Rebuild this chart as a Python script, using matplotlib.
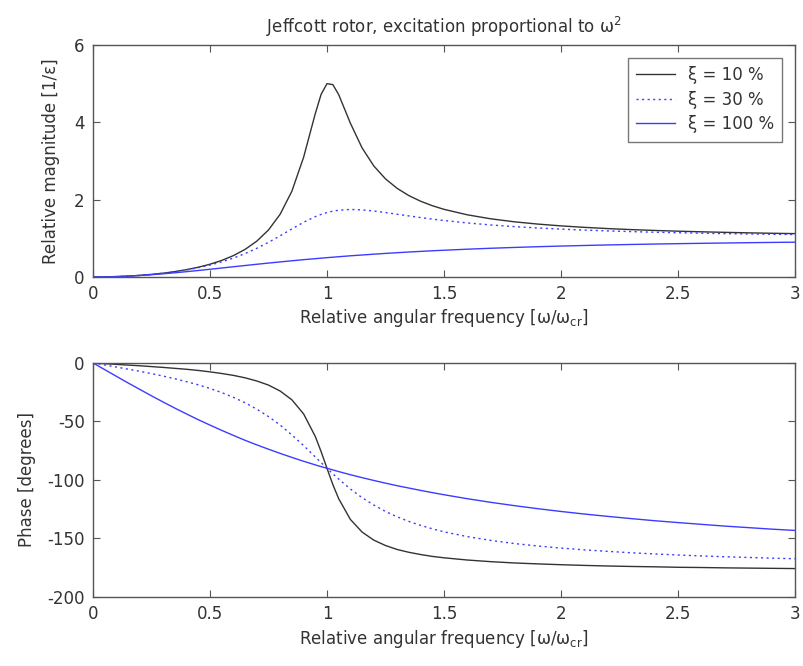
import numpy as np
import matplotlib.pyplot as plt

plt.rcParams['font.family'] = ['DejaVu Sans']
plt.rcParams['mathtext.fontset'] = 'dejavusans'
plt.rcParams['axes.unicode_minus'] = False

# relative angular frequency
freq = [0, 0.05, 0.1, 0.15, 0.2, 0.25, 0.3, 0.35, 0.4, 0.45, 0.5, 0.55, 0.6,
        0.65, 0.7, 0.75, 0.8, 0.85, 0.9, 0.95, 0.975, 1.0, 1.025, 1.05, 1.1,
        1.15, 1.2, 1.25, 1.3, 1.35, 1.4, 1.45, 1.5, 1.6, 1.7, 1.8, 1.9, 2.0,
        2.1, 2.2, 2.3, 2.4, 2.5, 2.6, 2.7, 2.8, 2.9, 3.0]

# magnitude
mag_10 = [0, 0.003, 0.010, 0.023, 0.042, 0.067, 0.099, 0.139, 0.190, 0.252,
          0.330, 0.428, 0.553, 0.714, 0.927, 1.216, 1.625, 2.220, 3.095,
          4.226, 4.726, 5.000, 4.976, 4.718, 3.978, 3.339, 2.873, 2.538,
          2.292, 2.105, 1.960, 1.844, 1.750, 1.608, 1.505, 1.428, 1.369,
          1.322, 1.284, 1.252, 1.226, 1.204, 1.185, 1.169, 1.155, 1.142,
          1.131, 1.122]
mag_30 = [0, 0.003, 0.010, 0.023, 0.041, 0.066, 0.097, 0.136, 0.183, 0.241,
          0.309, 0.392, 0.490, 0.606, 0.742, 0.896, 1.067, 1.244, 1.415,
          1.561, 1.619, 1.667, 1.703, 1.727, 1.747, 1.736, 1.707, 1.667,
          1.623, 1.579, 1.537, 1.497, 1.461, 1.398, 1.346, 1.303, 1.268,
          1.238, 1.213, 1.192, 1.174, 1.158, 1.145, 1.133, 1.122, 1.113,
          1.105, 1.098]
mag_100 = [0, 0.002, 0.010, 0.022, 0.038, 0.059, 0.083, 0.109, 0.138, 0.168,
           0.200, 0.232, 0.265, 0.297, 0.329, 0.360, 0.390, 0.419, 0.448,
           0.474, 0.487, 0.500, 0.512, 0.524, 0.548, 0.569, 0.590, 0.610,
           0.628, 0.646, 0.662, 0.678, 0.692, 0.719, 0.743, 0.764, 0.783,
           0.800, 0.815, 0.829, 0.841, 0.852, 0.862, 0.871, 0.879, 0.887,
           0.894, 0.900]

# phase in degrees
ph_10 = [0, -0.6, -1.2, -1.8, -2.4, -3.1, -3.8, -4.6, -5.4, -6.4, -7.6, -9.0,
         -10.6, -12.7, -15.4, -18.9, -24.0, -31.5, -43.5, -62.8, -75.8, -90.0,
         -103.9, -116.0, -133.7, -144.5, -151.4, -156.0, -159.4, -161.8,
         -163.7, -165.3, -166.5, -168.4, -169.8, -170.9, -171.7, -172.4,
         -173.0, -173.5, -173.9, -174.2, -174.6, -174.8, -175.1, -175.3,
         -175.5, -175.7]
ph_30 = [0, -1.7, -3.5, -5.3, -7.1, -9.1, -11.2, -13.5, -16.0, -18.7, -21.8,
         -25.3, -29.4, -34.0, -39.5, -45.8, -53.1, -61.5, -70.6, -80.3, -85.2,
         -90.0, -94.7, -99.2, -107.7, -115.1, -121.4, -126.9, -131.5, -135.4,
         -138.8, -141.7, -144.3, -148.4, -151.6, -154.3, -156.4, -158.2,
         -159.7, -161.0, -162.2, -163.2, -164.1, -164.9, -165.6, -166.2,
         -166.8, -167.3]
ph_100 = [0, -5.7, -11.4, -17.1, -22.6, -28.1, -33.4, -38.6, -43.6, -48.5,
          -53.1, -57.6, -61.9, -66.1, -70.0, -73.7, -77.3, -80.7, -84.0, -87.1,
          -88.6, -90.0, -91.4, -92.8, -95.5, -98.0, -100.4, -102.7, -104.9,
          -106.9, -108.9, -110.8, -112.6, -116.0, -119.1, -121.9, -124.5,
          -126.9, -129.1, -131.1, -133.0, -134.8, -136.4, -137.9, -139.4,
          -140.7, -142.0, -143.1]

labels = ['ξ = 10 %', 'ξ = 30 %', 'ξ = 100 %']
txt = '#333333'
blk = '#333333'
blu = '#3c3cff'
fs = 12

fig = plt.figure(figsize=(8.04, 6.66), dpi=100)
ax1 = fig.add_axes([0.1157, 0.5841, 0.873, 0.3483])
ax2 = fig.add_axes([0.1157, 0.1036, 0.873, 0.3514])

ax1.plot(freq, mag_10, color=blk, lw=1.0, label=labels[0])
ax1.plot(freq, mag_30, color=blu, lw=1.0, ls=(0, (1.5, 2.5)), label=labels[1])
ax1.plot(freq, mag_100, color=blu, lw=1.0, label=labels[2])

ax2.plot(freq, ph_10, color=blk, lw=1.0)
ax2.plot(freq, ph_30, color=blu, lw=1.0, ls=(0, (1.5, 2.5)))
ax2.plot(freq, ph_100, color=blu, lw=1.0)

xlab = r'Relative angular frequency [ω/ω$_{\rm cr}$]'
xt = [0, 0.5, 1, 1.5, 2, 2.5, 3]
xtl = ['0', '0.5', '1', '1.5', '2', '2.5', '3']

ax1.set_xlim(0, 3)
ax1.set_ylim(0, 6)
ax1.set_yticks([0, 2, 4, 6])
ax1.set_xticks(xt)
ax1.set_xticklabels(xtl)
ax1.set_xlabel(xlab, color=txt, fontsize=fs, labelpad=3)
ax1.set_ylabel('Relative magnitude [1/ε]', color=txt, fontsize=fs, labelpad=10)
ax1.set_title(r'Jeffcott rotor, excitation proportional to ω$^2$',
              color=txt, fontsize=fs, pad=9)

ax2.set_xlim(0, 3)
ax2.set_ylim(-200, 0)
ax2.set_yticks([-200, -150, -100, -50, 0])
ax2.set_xticks(xt)
ax2.set_xticklabels(xtl)
ax2.set_xlabel(xlab, color=txt, fontsize=fs, labelpad=3)
ax2.set_ylabel('Phase [degrees]', color=txt, fontsize=fs, labelpad=8)

for ax in (ax1, ax2):
    ax.tick_params(direction='in', top=True, right=True, length=5,
                   width=0.8, colors='#555555', labelcolor=txt, labelsize=fs,
                   pad=6)
    for s in ax.spines.values():
        s.set_color('#555555')
        s.set_linewidth(1.0)

leg = ax1.legend(loc='upper right', fontsize=fs, frameon=True, fancybox=False,
                 edgecolor='#555555', handlelength=2.3, borderaxespad=0.75,
                 labelspacing=0.4, borderpad=0.5, handletextpad=0.8)
leg.get_frame().set_linewidth(1.0)
for t in leg.get_texts():
    t.set_color(txt)

fig.savefig('out.png', dpi=100)
